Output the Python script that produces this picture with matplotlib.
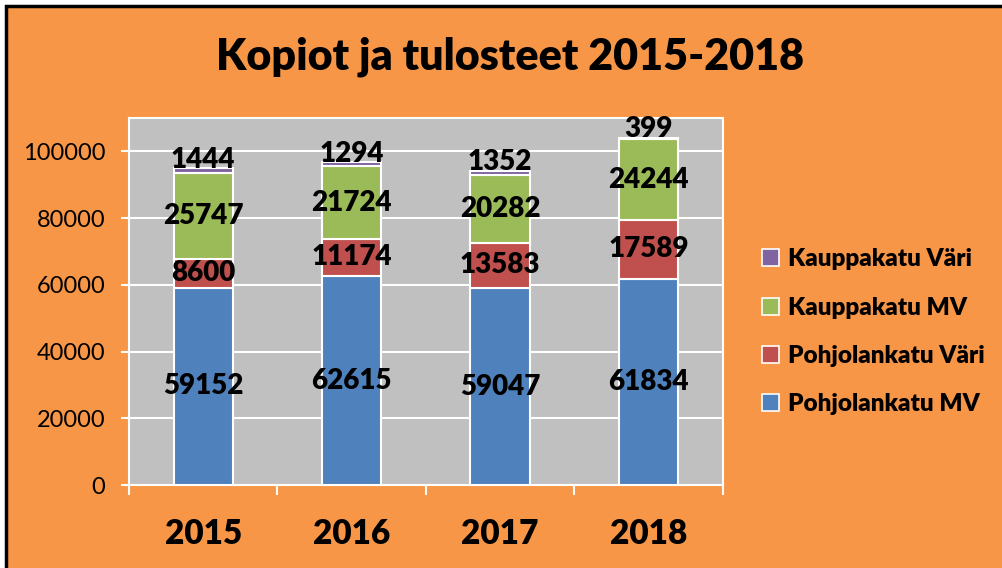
import numpy as np
import matplotlib.pyplot as plt
from matplotlib.patches import Rectangle, Patch

# Data
years = ['2015', '2016', '2017', '2018']
pohjolankatu_mv = [59152, 62615, 59047, 61834]
pohjolankatu_vari = [8600, 11174, 13583, 17589]
kauppakatu_mv = [25747, 21724, 20282, 24244]
kauppakatu_vari = [1444, 1294, 1352, 399]

series = [
    ('Pohjolankatu MV', pohjolankatu_mv, '#4F81BD'),
    ('Pohjolankatu Väri', pohjolankatu_vari, '#C0504D'),
    ('Kauppakatu MV', kauppakatu_mv, '#9BBB59'),
    ('Kauppakatu Väri', kauppakatu_vari, '#8064A2'),
]

orange = '#F79646'
font = ['Lato', 'DejaVu Sans']
plt.rcParams['font.family'] = font
bold = 'heavy'

fig = plt.figure(figsize=(10.02, 5.68), dpi=100)
fig.patch.set_facecolor('white')
# orange chart area with black border on top/left
fig.patches.append(Rectangle((6 / 1002, -0.1), 1.2, (568 - 6) / 568 + 0.1,
                             transform=fig.transFigure, facecolor=orange,
                             edgecolor='black', linewidth=2.5, zorder=-10))

ax = fig.add_axes([0.1287, 0.1461, 0.5928, 0.6461])
ax.set_facecolor('#C0C0C0')
for s in ax.spines.values():
    s.set_color('white')
    s.set_linewidth(1.5)

x = np.arange(len(years))
bottom = np.zeros(len(years))
for name, vals, color in series:
    vals = np.array(vals, dtype=float)
    ax.bar(x, vals, width=0.40, bottom=bottom, color=color,
           edgecolor='white', linewidth=1.5, label=name, zorder=3)
    for xi, b, v in zip(x, bottom, vals):
        if name == 'Kauppakatu Väri':
            ax.annotate(f'{int(v)}', (xi, b + v), xytext=(0, 6),
                        textcoords='offset points', ha='center', va='center',
                        fontsize=20, fontweight=bold, zorder=5)
        else:
            ax.text(xi, b + v / 2, f'{int(v)}', ha='center', va='center',
                    fontsize=20, fontweight=bold, zorder=5)
    bottom += vals

ax.set_xlim(-0.5, len(years) - 0.5)
ax.set_ylim(0, 110000)
ax.set_yticks(np.arange(0, 100001, 20000))
ax.yaxis.grid(True, color='white', linewidth=1.5, zorder=0)
ax.set_axisbelow(True)
ax.tick_params(axis='y', colors='white', length=6, width=1.5, pad=11,
               labelcolor='black', labelsize=17)

ax.set_xticks(np.arange(-0.5, len(years), 1.0))
ax.set_xticklabels([])
ax.set_xticks(x, minor=True)
ax.set_xticklabels(years, minor=True, fontsize=24, fontweight=bold)
ax.tick_params(axis='x', which='major', colors='white', length=7, width=1.5)
ax.tick_params(axis='x', which='minor', length=0, pad=24)

fig.text(0.509, 0.9, 'Kopiot ja tulosteet 2015-2018', ha='center', va='center',
         fontsize=31, fontweight=bold)

handles = [Patch(facecolor=c, edgecolor='white', linewidth=1.2, label=n)
           for n, _, c in reversed(series)]
leg = fig.legend(handles=handles, loc='center left',
                 bbox_to_anchor=(0.739, 0.416), frameon=False,
                 prop={'family': font, 'weight': bold, 'size': 17.5},
                 handlelength=0.7, handleheight=0.7, handletextpad=0.35,
                 labelspacing=1.08)

fig.savefig('out.png', dpi=100, facecolor=fig.get_facecolor())
